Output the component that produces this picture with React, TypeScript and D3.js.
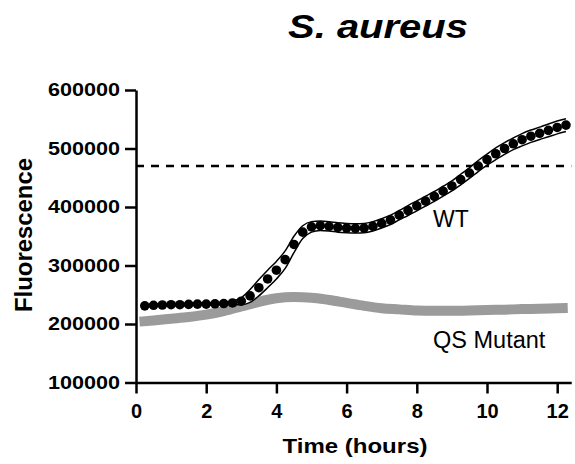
import React, { useEffect, useRef } from "react";
import * as d3 from "d3";

const wtTime = [
  0.25, 0.5, 0.75, 1.0, 1.25, 1.5, 1.75, 2.0, 2.25, 2.5, 2.75, 3.0,
  3.25, 3.5, 3.75, 4.0, 4.25, 4.5, 4.75, 5.0, 5.25, 5.5, 5.75, 6.0,
  6.25, 6.5, 6.75, 7.0, 7.25, 7.5, 7.75, 8.0, 8.25, 8.5, 8.75, 9.0,
  9.25, 9.5, 9.75, 10.0, 10.25, 10.5, 10.75, 11.0, 11.25, 11.5, 11.75, 12.0,
  12.25,
];
const wtValues = [
  231000, 232000, 232500, 233000, 233000, 233500, 234000, 234000, 234500, 235000, 236000, 239000,
  248000, 262000, 277000, 292000, 310000, 336000, 357000, 366000, 368000, 367000, 365000, 364000,
  363500, 364000, 367000, 372000, 378000, 386000, 394000, 402000, 410000, 418000, 427000, 436000,
  447000, 458000, 470000, 481000, 491000, 500000, 508000, 515000, 521000, 526000, 531000, 536000,
  540000,
];
const wtSem = [
  2000, 2000, 2000, 2000, 2000, 2000, 2000, 2000, 2000, 2000, 3000, 6000,
  11000, 14000, 15000, 15000, 15000, 14000, 11000, 9000, 8000, 8000, 8000, 8000,
  8000, 8000, 8000, 8000, 8000, 8000, 8500, 8500, 8500, 8500, 8500, 8500,
  9000, 9000, 9500, 9500, 10000, 10000, 10000, 10500, 10500, 10500, 11000, 11000,
  11000,
];
const qsTime = [
  0.1, 0.5, 1.0, 1.5, 2.0, 2.5, 3.0, 3.5, 4.0, 4.5, 5.0, 5.5, 6.0,
  6.5, 7.0, 7.5, 8.0, 8.5, 9.0, 9.5, 10.0, 10.5, 11.0, 11.5, 12.0, 12.3,
];
const qsValues = [
  204000, 206000, 209000, 212000, 216000, 222000, 230000, 238000, 244000, 246000, 245000, 241000, 236000,
  231000, 227000, 225000, 223000, 222500, 222500, 223000, 224000, 224500, 225500, 226000, 227000, 227500,
];
const thresholdValue = 470000;
const xTicks = [0, 2, 4, 6, 8, 10, 12];
const yTicks = [100000, 200000, 300000, 400000, 500000, 600000];
const title = "S. aureus";
const xTitle = "Time (hours)";
const yTitle = "Fluorescence";
const wtLabel = "WT";
const qsLabel = "QS Mutant";

const W = 575;
const H = 464;
const FONT = "Arial, 'Liberation Sans', Helvetica, sans-serif";

export default function App() {
  const xAxisRef = useRef<SVGGElement>(null);
  const yAxisRef = useRef<SVGGElement>(null);

  const x = d3.scaleLinear().domain([0, 12.4]).range([136, 136 + 12.4 * 35.1]);
  const y = d3.scaleLinear().domain([100000, 600000]).range([382.5, 90]);

  useEffect(() => {
    if (xAxisRef.current) {
      const g = d3.select(xAxisRef.current);
      g.selectAll("*").remove();
      g.call(
        d3
          .axisBottom(x)
          .tickValues(xTicks)
          .tickSize(11)
          .tickSizeOuter(0)
          .tickPadding(10)
          .tickFormat(d3.format("d") as any)
      );
      g.select(".domain").attr("stroke-width", 2.5).attr("stroke", "#000");
      g.selectAll(".tick line").attr("stroke-width", 2.5).attr("stroke", "#000");
      g.selectAll(".tick text")
        .attr("font-family", FONT)
        .attr("font-weight", "bold")
        .attr("font-size", 20)
        .attr("fill", "#000");
    }
    if (yAxisRef.current) {
      const g = d3.select(yAxisRef.current);
      g.selectAll("*").remove();
      g.call(
        d3
          .axisLeft(y)
          .tickValues(yTicks)
          .tickSize(11)
          .tickSizeOuter(0)
          .tickPadding(5)
          .tickFormat(d3.format("d") as any)
      );
      g.select(".domain").attr("stroke-width", 2.5).attr("stroke", "#000");
      g.selectAll(".tick line").attr("stroke-width", 2.5).attr("stroke", "#000");
      g.selectAll(".tick text")
        .attr("font-family", FONT)
        .attr("font-weight", "bold")
        .attr("font-size", 18.5)
        .attr("textLength", 72)
        .attr("lengthAdjust", "spacingAndGlyphs")
        .attr("fill", "#000");
    }
  });

  const wtData = wtTime.map((t, i) => ({ t, v: wtValues[i], e: wtSem[i] }));
  const qsData = qsTime.map((t, i) => ({ t, v: qsValues[i] }));

  const band = d3
    .area<{ t: number; v: number; e: number }>()
    .x((d) => x(d.t))
    .y0((d) => y(d.v - d.e))
    .y1((d) => y(d.v + d.e))
    .curve(d3.curveMonotoneX);
  const upper = d3
    .line<{ t: number; v: number; e: number }>()
    .x((d) => x(d.t))
    .y((d) => y(d.v + d.e))
    .curve(d3.curveMonotoneX);
  const lower = d3
    .line<{ t: number; v: number; e: number }>()
    .x((d) => x(d.t))
    .y((d) => y(d.v - d.e))
    .curve(d3.curveMonotoneX);
  const qsLine = d3
    .line<{ t: number; v: number }>()
    .x((d) => x(d.t))
    .y((d) => y(d.v))
    .curve(d3.curveMonotoneX);

  return (
    <svg
      width={W}
      height={H}
      style={{ position: "absolute", left: 0, top: 0, background: "#fff" }}
    >
      <rect x={0} y={0} width={W} height={H} fill="#fff" />
      <text
        x={378}
        y={38}
        textAnchor="middle"
        fontFamily={FONT}
        fontWeight="bold"
        fontStyle="italic"
        fontSize={34}
        textLength={180}
        lengthAdjust="spacingAndGlyphs"
      >
        {title}
      </text>

      <line
        x1={x(0)}
        x2={x(12.4)}
        y1={y(thresholdValue)}
        y2={y(thresholdValue)}
        stroke="#000"
        strokeWidth={2.5}
        strokeDasharray="8,7"
      />

      <path d={qsLine(qsData) || ""} fill="none" stroke="#9b9b9b" strokeWidth={10} />

      <path d={band(wtData) || ""} fill="#fff" stroke="none" />
      <path d={upper(wtData) || ""} fill="none" stroke="#000" strokeWidth={1.5} />
      <path d={lower(wtData) || ""} fill="none" stroke="#000" strokeWidth={1.5} />
      {wtData.map((d, i) => (
        <circle key={i} cx={x(d.t)} cy={y(d.v)} r={4.8} fill="#000" />
      ))}

      <g ref={yAxisRef} transform={`translate(${x(0)},0)`} />
      <g ref={xAxisRef} transform={`translate(0,${y(100000)})`} />

      <text x={433} y={226.5} fontFamily={FONT} fontSize={23} fill="#000">
        {wtLabel}
      </text>
      <text x={433} y={348} fontFamily={FONT} fontSize={23.5} fill="#000">
        {qsLabel}
      </text>

      <text
        x={355}
        y={453}
        textAnchor="middle"
        fontFamily={FONT}
        fontWeight="bold"
        fontSize={21}
        textLength={145}
        lengthAdjust="spacingAndGlyphs"
      >
        {xTitle}
      </text>
      <text
        transform="translate(32,235) rotate(-90)"
        textAnchor="middle"
        fontFamily={FONT}
        fontWeight="bold"
        fontSize={23}
        textLength={154}
        lengthAdjust="spacingAndGlyphs"
      >
        {yTitle}
      </text>
    </svg>
  );
}
